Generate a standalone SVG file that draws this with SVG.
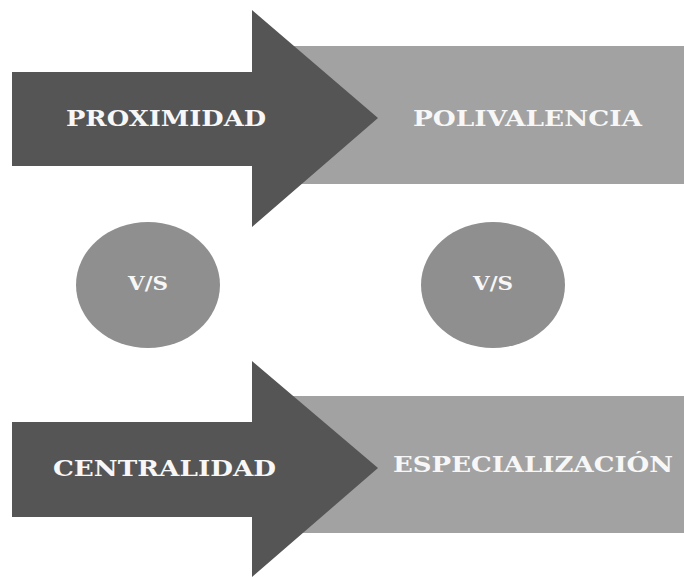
<svg xmlns="http://www.w3.org/2000/svg" width="684" height="577" viewBox="0 0 684 577">
<style>
.arrow{fill:#555555}
.band{fill:#a2a2a2}
.circ{fill:#8f8f8f}
.lbl{font-family:"DejaVu Serif",serif;font-weight:bold;fill:#f7f7f7;font-size:22px}
.vs{font-family:"DejaVu Serif",serif;font-weight:bold;fill:#f7f7f7;font-size:19px}
</style>
<rect width="684" height="577" fill="#ffffff"/>
<g id="polivalencia">
<rect class="band" x="290" y="46" width="394" height="138"/>
<text class="lbl" x="413" y="126" textLength="229" lengthAdjust="spacingAndGlyphs">POLIVALENCIA</text>
</g>
<g id="proximidad">
<polygon class="arrow" points="12,72 252,72 252,10 378,118 252,227 252,166 12,166"/>
<text class="lbl" x="66" y="126" textLength="200" lengthAdjust="spacingAndGlyphs">PROXIMIDAD</text>
</g>
<g id="especializacion">
<rect class="band" x="290" y="396" width="394" height="137"/>
<text class="lbl" x="393" y="472" textLength="280" lengthAdjust="spacingAndGlyphs">ESPECIALIZACIÓN</text>
</g>
<g id="centralidad">
<polygon class="arrow" points="12,422 252,422 252,361 378,468 252,577 252,517 12,517"/>
<text class="lbl" x="53" y="476" textLength="223" lengthAdjust="spacingAndGlyphs">CENTRALIDAD</text>
</g>
<g id="vs1">
<ellipse class="circ" cx="148" cy="285" rx="72" ry="63"/>
<text class="vs" x="128" y="290" textLength="40" lengthAdjust="spacingAndGlyphs">V/S</text>
</g>
<g id="vs2">
<ellipse class="circ" cx="493" cy="285" rx="72" ry="63"/>
<text class="vs" x="473" y="290" textLength="40" lengthAdjust="spacingAndGlyphs">V/S</text>
</g>
<g id="connectors"/>
</svg>
